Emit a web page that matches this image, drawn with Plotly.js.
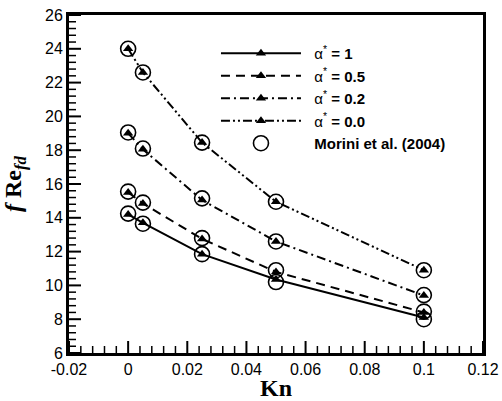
<!DOCTYPE html>
<html>
<head>
<meta charset="utf-8">
<script src="https://cdn.plot.ly/plotly-3.0.1.min.js"></script>
<style>html,body{margin:0;padding:0;background:#fff;}#chart{width:502px;height:401px;}</style>
</head>
<body>
<div id="chart"></div>
<script>
// Knudsen numbers
const kn = [0, 0.005, 0.025, 0.05, 0.1];
// Present results, f Re_fd for each aspect ratio
const alpha1 = [14.2, 13.7, 11.85, 10.35, 8.1];
const alpha05 = [15.5, 14.85, 12.75, 10.8, 8.4];
const alpha02 = [19.0, 18.05, 15.05, 12.6, 9.4];
const alpha00 = [24.0, 22.6, 18.45, 14.95, 10.9];
// Morini et al. (2004)
const moriniKn = [0, 0.005, 0.025, 0.05, 0.1, 0, 0.005, 0.025, 0.05, 0.1, 0, 0.005, 0.025, 0.05, 0.1, 0, 0.005, 0.025, 0.05, 0.1];
const moriniF = [24.0, 22.6, 18.45, 14.95, 10.9, 19.05, 18.1, 15.15, 12.6, 9.43, 15.55, 14.9, 12.8, 10.9, 8.45, 14.25, 13.65, 11.85, 10.2, 8.0];
// Legend labels
const names = ['α<sup>*</sup> <b>= 1</b>', 'α<sup>*</sup> <b>= 0.5</b>', 'α<sup>*</sup> <b>= 0.2</b>', 'α<sup>*</sup> <b>= 0.0</b>', '<b>Morini et al. (2004)</b>'];
// Axis ranges and tick labels
const xRange = [-0.02, 0.12];
const yRange = [6, 26];
const xTickVals = [-0.02, 0, 0.02, 0.04, 0.06, 0.08, 0.1, 0.12];
const xTickText = ['-0.02', '0', '0.02', '0.04', '0.06', '0.08', '0.1', '0.12'];
const yTickVals = [6, 8, 10, 12, 14, 16, 18, 20, 22, 24, 26];
const yTickText = ['6', '8', '10', '12', '14', '16', '18', '20', '22', '24', '26'];

const series = [alpha1, alpha05, alpha02, alpha00];
const dashes = ['solid', '9px,6px', '9px,4px,2px,4px', '9px,3px,2px,3px,2px,3px'];
const gap = '\u00a0\u00a0';
const traces = series.map((ys, i) => ({
  x: kn, y: ys, name: gap + names[i], type: 'scatter', mode: 'lines+markers',
  line: {color: '#000', width: 2, dash: dashes[i]},
  marker: {symbol: 'triangle-up', size: 9, color: '#000'}
}));
traces.push({
  x: moriniKn, y: moriniF, name: gap + names[4], type: 'scatter', mode: 'markers',
  marker: {symbol: 'circle-open', size: 15, color: '#000', line: {width: 1.6, color: '#000'}}
});

// Inward tick marks (bottom and left axes) drawn as line segments at the tick values
const margin = {l: 69, r: 19, t: 15, b: 48};
const plotW = 502 - margin.l - margin.r, plotH = 401 - margin.t - margin.b;
const xPerPx = (xRange[1] - xRange[0]) / plotW;
const yPerPx = (yRange[1] - yRange[0]) / plotH;
function tickSegments(major, len) {
  const mx = [], my = [], nx = [], ny = [];
  for (let i = 0; i < xTickVals.length; i++) {
    const v = xTickVals[i];
    mx.push(v, v, null); my.push(yRange[0], yRange[0] + len[0] * yPerPx, null);
    if (i < xTickVals.length - 1) {
      const step = (xTickVals[i + 1] - v) / 5;
      for (let k = 1; k < 5; k++) { const u = v + k * step; nx.push(u, u, null); ny.push(yRange[0], yRange[0] + len[1] * yPerPx, null); }
    }
  }
  for (let i = 0; i < yTickVals.length; i++) {
    const v = yTickVals[i];
    mx.push(xRange[0], xRange[0] + len[0] * xPerPx, null); my.push(v, v, null);
    if (i < yTickVals.length - 1) {
      const step = (yTickVals[i + 1] - v) / 5;
      for (let k = 1; k < 5; k++) { const u = v + k * step; nx.push(xRange[0], xRange[0] + len[1] * xPerPx, null); ny.push(u, u, null); }
    }
  }
  return major ? [mx, my] : [nx, ny];
}
const majorSeg = tickSegments(true, [12, 7]);
const minorSeg = tickSegments(false, [12, 7]);
traces.push({x: majorSeg[0], y: majorSeg[1], type: 'scatter', mode: 'lines', line: {color: '#000', width: 2}, showlegend: false, hoverinfo: 'skip', connectgaps: false, cliponaxis: false});
traces.push({x: minorSeg[0], y: minorSeg[1], type: 'scatter', mode: 'lines', line: {color: '#000', width: 1.5}, showlegend: false, hoverinfo: 'skip', connectgaps: false, cliponaxis: false});

const tickFont = {family: 'Liberation Sans, Arial, sans-serif', size: 16, color: '#000'};
const layout = {
  width: 502, height: 401,
  margin: margin,
  paper_bgcolor: '#fff', plot_bgcolor: '#fff',
  font: tickFont,
  showlegend: true,
  legend: {
    x: 0.355, y: 0.935, xanchor: 'left', yanchor: 'top',
    bgcolor: 'rgba(0,0,0,0)', borderwidth: 0,
    font: {family: 'Liberation Sans, Arial, sans-serif', size: 15, color: '#000'},
    itemwidth: 80, tracegroupgap: 0
  },
  xaxis: {
    range: xRange, tickmode: 'array', tickvals: xTickVals, ticktext: xTickText,
    ticks: '', showline: true, linewidth: 3, linecolor: '#000', mirror: true,
    showgrid: false, zeroline: false, tickfont: tickFont,
    title: {text: '<b>Kn</b>', font: {family: 'Liberation Serif, Times New Roman, serif', size: 24}, standoff: 0}
  },
  yaxis: {
    range: yRange, tickmode: 'array', tickvals: yTickVals, ticktext: yTickText,
    ticks: '', showline: true, linewidth: 3, linecolor: '#000', mirror: true,
    showgrid: false, zeroline: false, tickfont: tickFont,
    title: {text: '<b><i>f</i> Re<sub><i>fd</i></sub></b>', font: {family: 'Liberation Serif, Times New Roman, serif', size: 24}, standoff: 18}
  }
};

Plotly.newPlot('chart', traces, layout, {displayModeBar: false, staticPlot: true});
</script>
</body>
</html>
